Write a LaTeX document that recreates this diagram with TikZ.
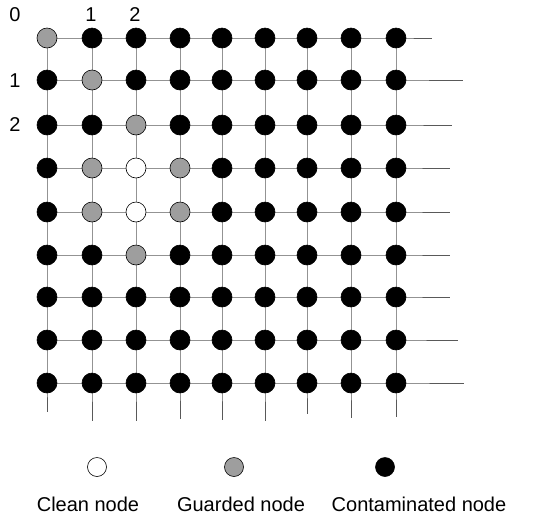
\documentclass[tikz,border=0pt]{standalone}
\usepackage{fontspec}
\setmainfont{Liberation Sans}
\usetikzlibrary{backgrounds}
\begin{document}
\begin{tikzpicture}[x=1pt,y=-1pt,
  vertex/.style={circle,draw=black,line width=0.6pt,minimum size=20pt,inner sep=0pt},
  contaminated/.style={vertex,fill=black},
  guarded/.style={vertex,fill=black!38},
  clean/.style={vertex,fill=white},
  gridline/.style={draw=black!65,line width=0.8pt},
  lbl/.style={font=\fontsize{20}{24}\selectfont,inner sep=0pt},
  legendmark/.style={circle,draw=black,line width=0.6pt,minimum size=19pt,inner sep=0pt}]
\useasboundingbox (0,0) rectangle (541,523);

% column and row positions of the 9x9 grid
\def\colx{{47,92,136,180,222,265,307,351,396}}
\def\rowy{{38,80,125,168,212,255,297,340,383}}
\def\rowend{{432,463,452,450,450,450,450,458,464}}
\def\colend{{412,421,421,419,420,421,414,418,417}}

% all nodes start out contaminated
\foreach \r in {0,...,8}{
  \foreach \c in {0,...,8}{
    \pgfmathsetmacro\px{\colx[\c]}
    \pgfmathsetmacro\py{\rowy[\r]}
    \def\kind{contaminated}
    \ifnum\r\c=0 \def\kind{guarded}\fi
    \ifnum\r\c=11 \def\kind{guarded}\fi
    \ifnum\r\c=22 \def\kind{guarded}\fi
    \ifnum\r\c=31 \def\kind{guarded}\fi
    \ifnum\r\c=33 \def\kind{guarded}\fi
    \ifnum\r\c=41 \def\kind{guarded}\fi
    \ifnum\r\c=43 \def\kind{guarded}\fi
    \ifnum\r\c=52 \def\kind{guarded}\fi
    \ifnum\r\c=32 \def\kind{clean}\fi
    \ifnum\r\c=42 \def\kind{clean}\fi
    \node[\kind] (n-\r-\c) at (\px,\py) {};
  }
}

% free ends of the grid lines
\foreach \r in {0,...,8}{
  \pgfmathsetmacro\px{\rowend[\r]}
  \pgfmathsetmacro\py{\rowy[\r]}
  \coordinate (e-\r) at (\px,\py);
}
\foreach \c in {0,...,8}{
  \pgfmathsetmacro\px{\colx[\c]}
  \pgfmathsetmacro\py{\colend[\c]}
  \coordinate (b-\c) at (\px,\py);
}

% grid lines behind the nodes
\begin{scope}[on background layer]
  \foreach \r in {0,...,8}{
    \draw[gridline] (n-\r-0.center) -- (n-\r-8.center) -- (e-\r);
  }
  \foreach \c in {0,...,8}{
    \draw[gridline] (n-0-\c.center) -- (n-8-\c.center) -- (b-\c);
  }
\end{scope}

% row and column indices
\node[lbl] (cx0) at (15,15) {0};
\node[lbl] (cx1) at (91,15) {1};
\node[lbl] (cx2) at (135,15) {2};
\node[lbl] (ry1) at (15,81) {1};
\node[lbl] (ry2) at (15,125) {2};

% legend
\node[legendmark,fill=white] (lg-clean) at (97,467) {};
\node[legendmark,fill=black!38] (lg-guard) at (234,467) {};
\node[legendmark,fill=black] (lg-cont) at (385,467) {};
\node[lbl] (tx-clean) at (88,504) {Clean node};
\node[lbl] (tx-guard) at (241,504) {Guarded node};
\node[lbl] (tx-cont) at (419,504) {Contaminated node};
\end{tikzpicture}
\end{document}
